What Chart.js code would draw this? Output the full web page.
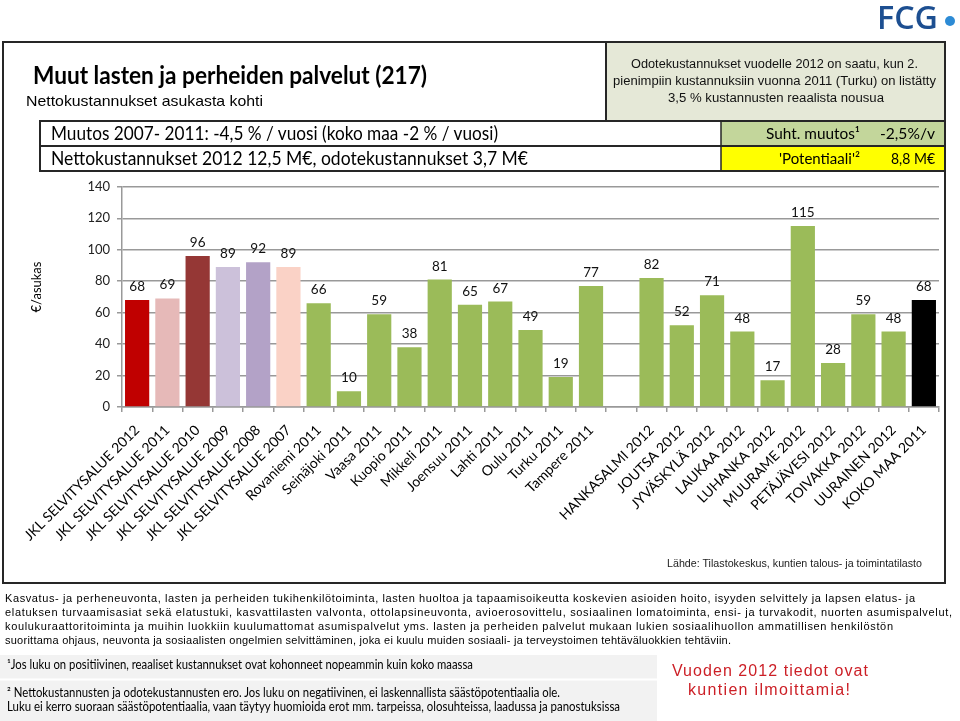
<!DOCTYPE html>
<html><head><meta charset="utf-8">
<script src="https://cdn.jsdelivr.net/npm/chart.js@4.4.0/dist/chart.umd.min.js"></script>
<style>
html,body{margin:0;padding:0;background:#fff;width:960px;height:721px;overflow:hidden;}
#wrap{position:relative;width:960px;height:721px;}
#c{position:absolute;left:0;top:172px;}
svg{position:absolute;left:0;top:0;}
</style></head>
<body><div id="wrap">
<svg id="bg" width="960" height="721">
  <rect x="606" y="42" width="339" height="79" fill="#e5e8d7"/>
  <rect x="721" y="121" width="224" height="25" fill="#c3d69b"/>
  <rect x="721" y="146" width="224" height="25" fill="#ffff00"/>
  <rect x="0" y="655" width="657" height="66" fill="#f2f2f2"/>
  <line x1="0" y1="679.5" x2="657" y2="679.5" stroke="#fff" stroke-width="2"/>
</svg>
<canvas id="c" width="960" height="400"></canvas>
<svg id="fg" width="960" height="721">
  <text x="877" y="29" font-family="Open Sans" font-weight="600" font-size="33" fill="#1d4f91" textLength="61" lengthAdjust="spacingAndGlyphs">FCG</text>
  <circle cx="950" cy="21" r="5" fill="#2d8bd5"/>
  <rect x="3" y="42" width="942" height="541" fill="none" stroke="#262626" stroke-width="2"/>
  <line x1="606" y1="42" x2="606" y2="121" stroke="#262626" stroke-width="2"/>
  <rect x="40" y="121" width="905" height="50" fill="none" stroke="#262626" stroke-width="2"/>
  <line x1="40" y1="146" x2="945" y2="146" stroke="#262626" stroke-width="2"/>
  <line x1="721" y1="121" x2="721" y2="171" stroke="#262626" stroke-width="1.5"/>
  <text x="33" y="84" font-family="Lato" font-weight="bold" font-size="24" fill="#000" textLength="394" lengthAdjust="spacingAndGlyphs">Muut lasten ja perheiden palvelut (217)</text>
  <text x="26" y="106" font-family="Liberation Sans" font-size="14.5" fill="#000" textLength="237" lengthAdjust="spacingAndGlyphs">Nettokustannukset  asukasta kohti</text>
  <g font-family="Liberation Sans" font-size="12.5" fill="#111">
    <text x="631" y="67.5" textLength="287" lengthAdjust="spacingAndGlyphs">Odotekustannukset vuodelle 2012 on saatu, kun 2.</text>
    <text x="613" y="85" textLength="323" lengthAdjust="spacingAndGlyphs">pienimpiin kustannuksiin vuonna 2011 (Turku) on listätty</text>
    <text x="668" y="102" textLength="216" lengthAdjust="spacingAndGlyphs">3,5 % kustannusten reaalista nousua</text>
  </g>
  <g font-family="Lato" font-size="18.5" fill="#000">
    <text x="51" y="140" textLength="447" lengthAdjust="spacingAndGlyphs">Muutos 2007- 2011: -4,5 % / vuosi (koko maa -2 % / vuosi)</text>
    <text x="51" y="165" textLength="477" lengthAdjust="spacingAndGlyphs">Nettokustannukset 2012 12,5 M€, odotekustannukset 3,7 M€</text>
  </g>
  <g font-family="Lato" font-size="15.5" fill="#000">
    <text x="766" y="139" textLength="94" lengthAdjust="spacingAndGlyphs">Suht. muutos¹</text>
    <text x="880" y="139" textLength="55" lengthAdjust="spacingAndGlyphs">-2,5%/v</text>
    <text x="779" y="164" textLength="81" lengthAdjust="spacingAndGlyphs">'Potentiaali'²</text>
    <text x="891" y="164" textLength="44" lengthAdjust="spacingAndGlyphs">8,8 M€</text>
  </g>
  <text transform="translate(36,287) rotate(-90)" text-anchor="middle" font-family="Lato" font-size="13" fill="#000" dominant-baseline="central">€/asukas</text>
  <text x="667" y="567" font-family="Liberation Sans" font-size="11" fill="#222" textLength="255" lengthAdjust="spacingAndGlyphs">Lähde: Tilastokeskus, kuntien talous- ja toimintatilasto</text>
  <g font-family="Liberation Sans" font-size="11" fill="#000">
    <text x="5" y="602" textLength="910" lengthAdjust="spacing">Kasvatus- ja perheneuvonta, lasten ja perheiden tukihenkilötoiminta, lasten huoltoa ja tapaamisoikeutta koskevien asioiden hoito, isyyden selvittely ja lapsen elatus- ja</text>
    <text x="5" y="616" textLength="947" lengthAdjust="spacing">elatuksen turvaamisasiat sekä elatustuki, kasvattilasten valvonta, ottolapsineuvonta, avioerosovittelu, sosiaalinen lomatoiminta, ensi- ja turvakodit, nuorten asumispalvelut,</text>
    <text x="5" y="630" textLength="888" lengthAdjust="spacing">koulukuraattoritoiminta ja muihin luokkiin kuulumattomat asumispalvelut yms. lasten ja perheiden palvelut mukaan lukien sosiaalihuollon ammatillisen henkilöstön</text>
    <text x="5" y="644" textLength="726" lengthAdjust="spacing">suorittama ohjaus, neuvonta ja sosiaalisten ongelmien selvittäminen, joka ei kuulu muiden sosiaali- ja terveystoimen tehtäväluokkien tehtäviin.</text>
  </g>
  <g font-family="Lato" font-size="12.5" fill="#000">
    <text x="7" y="669" textLength="466" lengthAdjust="spacingAndGlyphs">¹Jos luku on positiivinen, reaaliset kustannukset ovat kohonneet nopeammin kuin koko maassa</text>
    <text x="7" y="697" textLength="553" lengthAdjust="spacingAndGlyphs">² Nettokustannusten ja odotekustannusten ero. Jos luku on negatiivinen, ei laskennallista säästöpotentiaalia ole.</text>
    <text x="7" y="711" textLength="613" lengthAdjust="spacingAndGlyphs">Luku ei kerro suoraan säästöpotentiaalia, vaan täytyy huomioida erot mm. tarpeissa, olosuhteissa, laadussa ja panostuksissa</text>
  </g>
  <g font-family="Liberation Sans" font-size="16" fill="#cc1f26">
    <text x="672" y="676" textLength="196" lengthAdjust="spacing">Vuoden 2012 tiedot ovat</text>
    <text x="688" y="695" textLength="162" lengthAdjust="spacing">kuntien ilmoittamia!</text>
  </g>
</svg>
</div>
<script>
const categories = [
  "JKL SELVITYSALUE 2012","JKL SELVITYSALUE 2011","JKL SELVITYSALUE 2010","JKL SELVITYSALUE 2009",
  "JKL SELVITYSALUE 2008","JKL SELVITYSALUE 2007","Rovaniemi 2011","Seinäjoki 2011","Vaasa 2011",
  "Kuopio 2011","Mikkeli 2011","Joensuu 2011","Lahti 2011","Oulu 2011","Turku 2011","Tampere 2011",
  "","HANKASALMI 2012","JOUTSA 2012","JYVÄSKYLÄ 2012","LAUKAA 2012","LUHANKA 2012","MUURAME 2012",
  "PETÄJÄVESI 2012","TOIVAKKA 2012","UURAINEN 2012","KOKO MAA 2011"
];
const values = [68,69,96,89,92,89,66,10,59,38,81,65,67,49,19,77,null,82,52,71,48,17,115,28,59,48,68];
const yMin = 0, yMax = 140, yStep = 20;

const green = "#9bbb59";
const barColors = ["#c00000","#e6b9b8","#953735","#ccc1da","#b3a2c7","#fad2c6",
  green,green,green,green,green,green,green,green,green,green,green,
  green,green,green,green,green,green,green,green,green,"#000000"];

const valueLabels = {
  id:'valueLabels',
  afterDatasetsDraw(chart){
    const ctx = chart.ctx;
    const meta = chart.getDatasetMeta(0);
    ctx.save();
    ctx.font = '13.5px Lato';
    ctx.fillStyle = '#111';
    ctx.textAlign = 'center';
    ctx.textBaseline = 'alphabetic';
    meta.data.forEach((bar,i)=>{
      const v = chart.data.datasets[0].data[i];
      if(v==null) return;
      ctx.fillText(String(v), bar.x, bar.y - 9);
    });
    ctx.restore();
  }
};

new Chart(document.getElementById('c'), {
  type:'bar',
  data:{labels:categories, datasets:[{data:values, backgroundColor:barColors, barPercentage:0.8, categoryPercentage:1.0}]},
  options:{
    responsive:false, animation:false, devicePixelRatio:1,
    layout:{padding:{top:9,right:21,left:0,bottom:0}},
    plugins:{legend:{display:false}, tooltip:{enabled:false}, title:{display:false}},
    scales:{
      x:{
        grid:{display:true, drawOnChartArea:false, drawTicks:true, tickLength:5, color:'#999', lineWidth:1.5, offset:true},
        border:{color:'#999', width:1.5},
        ticks:{maxRotation:45, minRotation:45, autoSkip:false, font:{family:'Lato', size:14}, color:'#000', padding:10},
        afterFit:(s)=>{ s.height = 165; }
      },
      y:{
        min:yMin, max:yMax,
        ticks:{stepSize:yStep, font:{family:'Lato', size:13}, color:'#222', padding:7},
        grid:{color:'#999', lineWidth:1.5, tickLength:5},
        border:{color:'#999', width:1.5},
        afterFit:(s)=>{ s.width = 122; }
      }
    }
  },
  plugins:[valueLabels]
});
</script>
</body></html>
